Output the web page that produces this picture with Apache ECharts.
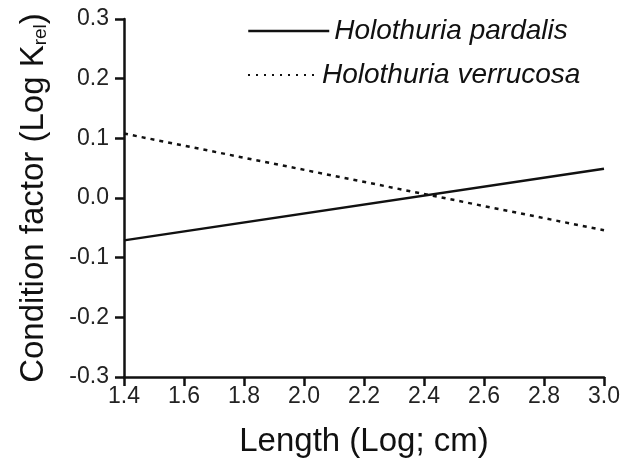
<!DOCTYPE html>
<html><head><meta charset="utf-8">
<script src="https://cdn.jsdelivr.net/npm/echarts@6/dist/echarts.min.js"></script>
<style>html,body{margin:0;padding:0;background:#fff}#c{width:628px;height:463px}</style>
</head><body><div id="c"></div>
<script>
const seriesNames = ['Holothuria pardalis', 'Holothuria verrucosa'];
const lengthX = [1.4, 3.0];
const pardalisY = [-0.071, 0.049];
const verrucosaY = [0.108, -0.054];
const xTicks = [1.4, 1.6, 1.8, 2.0, 2.2, 2.4, 2.6, 2.8, 3.0];
const yTicks = [-0.3, -0.2, -0.1, 0.0, 0.1, 0.2, 0.3];

const font = 'Liberation Sans, Arial, sans-serif';
const chart = echarts.init(document.getElementById('c'));
chart.setOption({
  animation: false,
  backgroundColor: '#fff',
  grid: { left: 124, right: 24, top: 19, bottom: 86 },
  legend: [
    { data: [seriesNames[0]], left: 242, top: 12, itemWidth: 81, itemHeight: 14, itemGap: 0,
      textStyle: { fontFamily: font, fontSize: 28, fontStyle: 'italic', color: '#111' },
      itemStyle: { opacity: 0 },
      lineStyle: { width: 2.5, type: 'solid' } },
    { data: [seriesNames[1]], left: 242, top: 56, itemWidth: 69, itemHeight: 14, itemGap: 0,
      textStyle: { fontFamily: font, fontSize: 28, fontStyle: 'italic', color: '#111' },
      itemStyle: { opacity: 0 },
      lineStyle: { width: 2, type: [2, 6] } }
  ],
  xAxis: {
    type: 'value', min: 1.4, max: 3.0, interval: 0.2,
    name: 'Length (Log; cm)', nameLocation: 'middle', nameGap: 48,
    nameTextStyle: { fontFamily: font, fontSize: 33, color: '#111' },
    axisLine: { onZero: false, lineStyle: { color: '#111', width: 2.5 } },
    axisTick: { show: true, length: 9, lineStyle: { color: '#111', width: 2.5 } },
    axisLabel: { fontFamily: font, fontSize: 23, color: '#222', margin: 8,
      formatter: v => xTicks.find(t => Math.abs(t - v) < 1e-6).toFixed(1) },
    splitLine: { show: false }
  },
  yAxis: {
    type: 'value', min: -0.3, max: 0.3, interval: 0.1,
    name: 'Condition factor (Log K{sub|rel})', nameLocation: 'middle', nameGap: 74, nameRotate: 90,
    nameTextStyle: { fontFamily: font, fontSize: 33, color: '#111',
      rich: { sub: { fontFamily: font, fontSize: 19, color: '#111', verticalAlign: 'bottom', padding: [14, 0, 0, 0] } } },
    axisLine: { onZero: false, lineStyle: { color: '#111', width: 2.5 } },
    axisTick: { show: true, length: 9, lineStyle: { color: '#111', width: 2.5 } },
    axisLabel: { fontFamily: font, fontSize: 23, color: '#222', margin: 15,
      formatter: v => { const t = yTicks.find(t => Math.abs(t - v) < 1e-6); return t.toFixed(1); } },
    splitLine: { show: false }
  },
  series: [
    { name: seriesNames[0], type: 'line', symbol: 'none', color: '#111',
      data: lengthX.map((x, i) => [x, pardalisY[i]]),
      lineStyle: { color: '#111', width: 2.5, type: 'solid' } },
    { name: seriesNames[1], type: 'line', symbol: 'none', color: '#111',
      data: lengthX.map((x, i) => [x, verrucosaY[i]]),
      lineStyle: { color: '#111', width: 2.5, type: [4, 5] } }
  ]
});
</script></body></html>
